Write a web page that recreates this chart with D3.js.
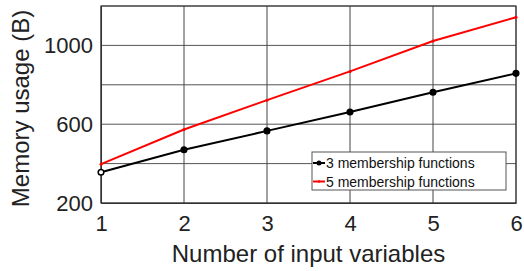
<!DOCTYPE html>
<html>
<head>
<meta charset="utf-8">
<script src="https://cdn.jsdelivr.net/npm/d3@7"></script>
<style>
  body { margin: 0; background: #fff; }
  text { font-family: "Liberation Sans", Arial, sans-serif; }
</style>
</head>
<body>
<div id="chart-area"></div>
<script>
// DATA
let inputs = [1, 2, 3, 4, 5, 6];
let mf3 = [356, 470, 566, 662, 762, 858];
let mf5 = [397, 573, 722, 868, 1022, 1143];
let yTicks = [200, 600, 1000];
let yGrid = [200, 400, 600, 800, 1000, 1200];
let seriesNames = ["3 membership functions", "5 membership functions"];

// CHART AREA
let margin = { top: 6, right: 8, bottom: 68, left: 101 },
  width = 524 - margin.left - margin.right,
  height = 271 - margin.top - margin.bottom;

let svg = d3
  .select("#chart-area")
  .append("svg")
  .attr("width", 524)
  .attr("height", 271)
  .append("g")
  .attr("transform", "translate(" + margin.left + "," + margin.top + ")");

let x = d3.scaleLinear().domain([1, 6]).range([0, width]);
let y = d3.scaleLinear().domain([200, 1200]).range([height, 0]);

// GRID
svg.append("g")
  .selectAll("line.hgrid")
  .data(yGrid)
  .enter()
  .append("line")
  .attr("x1", 0)
  .attr("x2", width)
  .attr("y1", d => y(d))
  .attr("y2", d => y(d))
  .attr("stroke", "#555")
  .attr("stroke-width", 1);

svg.append("g")
  .selectAll("line.vgrid")
  .data(inputs)
  .enter()
  .append("line")
  .attr("x1", d => x(d))
  .attr("x2", d => x(d))
  .attr("y1", 0)
  .attr("y2", height)
  .attr("stroke", "#444")
  .attr("stroke-width", 1);

// AXIS
let xAxis = d3.axisBottom(x).tickValues(inputs).tickSize(0).tickPadding(12).tickFormat(d3.format("d"));
let yAxis = d3.axisLeft(y).tickValues(yTicks).tickSize(0).tickPadding(8).tickFormat(d3.format("d"));

svg.append("g")
  .attr("transform", "translate(0," + height + ")")
  .call(xAxis)
  .call(g => g.select(".domain").attr("stroke", "#333"))
  .selectAll("text")
  .attr("font-size", 22)
  .attr("fill", "#222");

svg.append("g")
  .call(yAxis)
  .call(g => g.select(".domain").attr("stroke", "#333"))
  .selectAll("text")
  .attr("font-size", 22)
  .attr("fill", "#222");

svg.append("rect")
  .attr("width", width)
  .attr("height", height)
  .attr("fill", "none")
  .attr("stroke", "#333")
  .attr("stroke-width", 1);

// LINES
let line = d3.line()
  .x((d, i) => x(inputs[i]))
  .y(d => y(d));

svg.append("path")
  .datum(mf5)
  .attr("fill", "none")
  .attr("stroke", "#ff0000")
  .attr("stroke-width", 2)
  .attr("d", line);

svg.append("path")
  .datum(mf3)
  .attr("fill", "none")
  .attr("stroke", "#000")
  .attr("stroke-width", 2)
  .attr("d", line);

svg.selectAll(".dot5")
  .data(mf5)
  .enter()
  .append("circle")
  .attr("cx", (d, i) => x(inputs[i]))
  .attr("cy", d => y(d))
  .attr("r", 1.5)
  .attr("fill", "#ff0000");

svg.selectAll(".dot3")
  .data(mf3)
  .enter()
  .append("circle")
  .attr("cx", (d, i) => x(inputs[i]))
  .attr("cy", d => y(d))
  .attr("r", 2.8)
  .attr("fill", (d, i) => i === 0 ? "#fff" : "#000")
  .attr("stroke", "#000")
  .attr("stroke-width", 1.5);

// LEGEND
let legend = svg.append("g").attr("transform", "translate(" + (312 - margin.left) + "," + (152 - margin.top) + ")");
legend.append("rect")
  .attr("width", 194)
  .attr("height", 38)
  .attr("fill", "#fff")
  .attr("stroke", "#555");

let legendColors = ["#000", "#ff0000"];
seriesNames.forEach(function(name, i) {
  let ly = 11 + i * 18.5;
  legend.append("line")
    .attr("x1", 1).attr("x2", 13)
    .attr("y1", ly).attr("y2", ly)
    .attr("stroke", legendColors[i])
    .attr("stroke-width", 2);
  legend.append("circle")
    .attr("cx", 7).attr("cy", ly)
    .attr("r", i === 0 ? 2.5 : 1.2)
    .attr("fill", legendColors[i]);
  legend.append("text")
    .attr("x", 14)
    .attr("y", ly + 5)
    .attr("font-size", 14)
    .attr("fill", "#111")
    .text(name);
});

// TITLES
svg.append("text")
  .attr("x", width / 2)
  .attr("y", height + 59)
  .attr("text-anchor", "middle")
  .attr("font-size", 24)
  .attr("fill", "#222")
  .text("Number of input variables");

svg.append("text")
  .attr("transform", "rotate(-90)")
  .attr("x", -height / 2 - 4)
  .attr("y", -72)
  .attr("text-anchor", "middle")
  .attr("font-size", 24)
  .attr("fill", "#222")
  .text("Memory usage (B)");
</script>
</body>
</html>
